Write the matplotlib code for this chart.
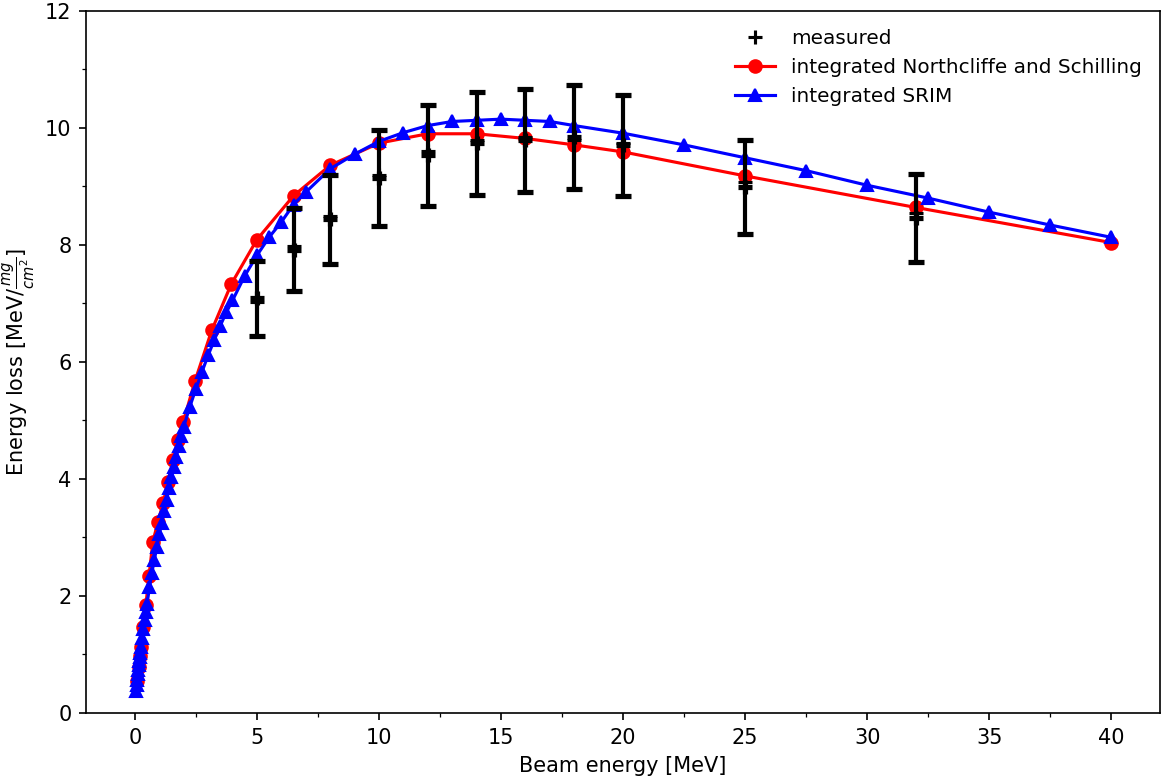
import numpy as np
import matplotlib
matplotlib.use("Agg")
import matplotlib.pyplot as plt
from matplotlib.ticker import AutoMinorLocator

# measured points (beam energy, centre of error bar, half error, second '+' value)
meas_e = [5, 6.5, 8, 10, 12, 14, 16, 18, 20, 25, 32]
meas_y = [7.09, 7.92, 8.44, 9.14, 9.53, 9.74, 9.79, 9.85, 9.70, 8.99, 8.46]
meas_err = [0.64, 0.71, 0.76, 0.82, 0.86, 0.88, 0.88, 0.89, 0.87, 0.81, 0.76]
meas_y2 = [7.02, 7.98, 8.50, 9.20, 9.60, 9.80, 9.85, 9.80, 9.74, 9.08, 8.55]

# integrated Northcliffe and Schilling
ns_e = [0.1, 0.15, 0.2, 0.27, 0.34, 0.45, 0.58, 0.74, 0.95, 1.16, 1.36, 1.57,
        1.77, 1.98, 2.47, 3.15, 3.95, 5, 6.5, 8, 10, 12, 14, 16, 18, 20, 25, 32, 40]
ns_y = [0.55, 0.78, 0.97, 1.13, 1.47, 1.84, 2.34, 2.93, 3.27, 3.59, 3.95, 4.32,
        4.66, 4.97, 5.68, 6.54, 7.33, 8.09, 8.84, 9.36, 9.74, 9.90, 9.90, 9.82,
        9.71, 9.59, 9.18, 8.64, 8.04]

# integrated SRIM
srim_e = [0.06, 0.08, 0.1, 0.12, 0.14, 0.16, 0.18, 0.2, 0.22, 0.25, 0.3, 0.35,
          0.4, 0.45, 0.5, 0.6, 0.7, 0.8, 0.9, 1.0, 1.1, 1.2, 1.3, 1.4, 1.5, 1.6,
          1.7, 1.8, 1.9, 2.0, 2.25, 2.5, 2.75, 3.0, 3.25, 3.5, 3.75, 4.0, 4.5,
          5.0, 5.5, 6.0, 6.5, 7, 8, 9, 10, 11, 12, 13, 14, 15, 16, 17, 18, 20,
          22.5, 25, 27.5, 30, 32.5, 35, 37.5, 40]
srim_y = [0.38, 0.48, 0.57, 0.66, 0.74, 0.82, 0.89, 0.96, 1.03, 1.13, 1.28, 1.43,
          1.58, 1.72, 1.86, 2.15, 2.40, 2.62, 2.83, 3.05, 3.25, 3.45, 3.64, 3.84,
          4.03, 4.20, 4.38, 4.56, 4.73, 4.89, 5.23, 5.54, 5.83, 6.11, 6.37, 6.62,
          6.85, 7.05, 7.47, 7.82, 8.13, 8.39, 8.69, 8.90, 9.30, 9.55, 9.77, 9.92,
          10.04, 10.11, 10.13, 10.15, 10.13, 10.11, 10.04, 9.91, 9.71, 9.49, 9.27,
          9.02, 8.80, 8.56, 8.34, 8.13]

fig, ax = plt.subplots(figsize=(7.76, 5.2), dpi=150)
fig.subplots_adjust(left=0.0739, right=0.9966, top=0.986, bottom=0.086)

ax.plot(meas_e, meas_y2, 'k+', ms=6.5, mew=1.5, label='measured', zorder=4)
ax.plot(ns_e, ns_y, 'r-o', lw=1.5, ms=6, label='integrated Northcliffe and Schilling', zorder=2)
ax.plot(srim_e, srim_y, 'b-^', lw=1.5, ms=6, label='integrated SRIM', zorder=2.5)
ax.errorbar(meas_e, meas_y, yerr=meas_err, fmt='k+', ms=6.5, mew=2.5,
            elinewidth=2, capsize=4, capthick=1.4, zorder=3)

ax.set_xlim(-2, 42)
ax.set_ylim(0, 12)
ax.xaxis.set_minor_locator(AutoMinorLocator(2))
ax.yaxis.set_minor_locator(AutoMinorLocator(2))
ax.set_xlabel('Beam energy [MeV]')
ax.set_ylabel(r'Energy loss [MeV/$\frac{mg}{cm^2}$]')
ax.legend(loc='upper right', frameon=False, fontsize=9.6)

plt.savefig('out.png', dpi=150)
